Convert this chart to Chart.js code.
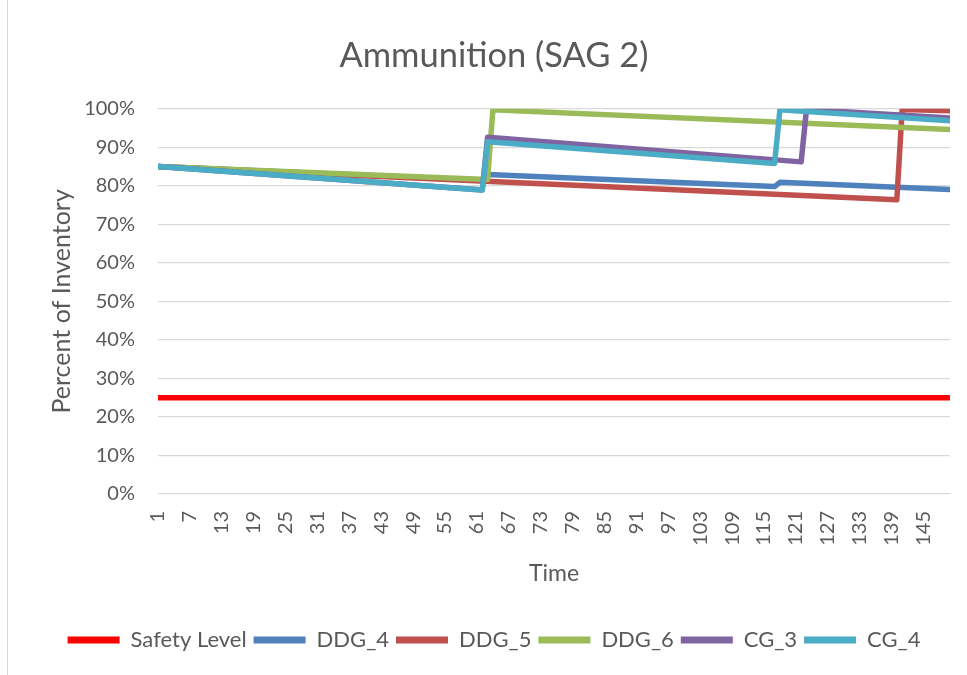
<!DOCTYPE html>
<html>
<head>
<meta charset="utf-8">
<script src="https://cdn.jsdelivr.net/npm/chart.js@4.4.1/dist/chart.umd.min.js"></script>
<style>
  html, body { margin: 0; padding: 0; background: #fff; }
  #frame { position: absolute; left: 7px; top: 0; bottom: 0; border-left: 1px solid #d9d9d9; }
  #wrap { position: relative; width: 967px; height: 675px; }
</style>
</head>
<body>
<div id="wrap">
  <div id="frame"></div>
  <canvas id="chart" width="967" height="675"></canvas>
</div>
<script>
// Ammunition (SAG 2) — percent of inventory over time, per ship.
// Each series is kept as its breakpoints (time / percent);
// the lines between them are straight, so Chart.js draws the segments.

const timeTicks = [1, 7, 13, 19, 25, 31, 37, 43, 49, 55, 61, 67, 73, 79, 85, 91, 97, 103, 109, 115, 121, 127, 133, 139, 145];
const pctTicks  = [0, 10, 20, 30, 40, 50, 60, 70, 80, 90, 100];

const seriesNames = ['Safety Level', 'DDG_4', 'DDG_5', 'DDG_6', 'CG_3', 'CG_4'];

const safetyTime = [1, 150];
const safetyPct  = [25, 25];

const ddg4Time = [1, 62, 63, 117, 118, 150];
const ddg4Pct  = [85, 81.4, 82.95, 79.8, 80.9, 79.0];

const ddg5Time = [1, 140, 141, 150];
const ddg5Pct  = [85, 76.4, 99.8, 99.5];

const ddg6Time = [1, 63, 64, 150];
const ddg6Pct  = [85, 81.6, 99.7, 94.6];

const cg3Time = [1, 62, 63, 122, 123, 150];
const cg3Pct  = [85, 78.9, 92.6, 86.2, 99.8, 97.6];

const cg4Time = [1, 62, 63, 117, 118, 150];
const cg4Pct  = [85, 78.9, 91.4, 85.8, 99.7, 96.9];

const colors = ['#FF0000', '#4F81BD', '#C0504D', '#9BBB59', '#8064A2', '#4BACC6'];
const TEXT = '#595959';
const FONT = 'Lato, "Open Sans", sans-serif';

const pairs = (xs, ys) => xs.map((x, i) => ({ x, y: ys[i] }));
const allTimes = [safetyTime, ddg4Time, ddg5Time, ddg6Time, cg3Time, cg4Time];
const allPcts  = [safetyPct, ddg4Pct, ddg5Pct, ddg6Pct, cg3Pct, cg4Pct];

// Excel paints later series on top; Chart.js paints lower `order` on top.
const datasets = seriesNames.map((name, i) => ({
  label: name,
  data: pairs(allTimes[i], allPcts[i]),
  borderColor: colors[i],
  backgroundColor: colors[i],
  borderWidth: 5.5,
  borderCapStyle: 'round',
  borderJoinStyle: 'round',
  pointRadius: 0,
  tension: 0,
  clip: 0,
  order: seriesNames.length - i,
}));

new Chart(document.getElementById('chart'), {
  type: 'line',
  data: { datasets },
  options: {
    responsive: false,
    animation: false,
    // left/right padding also centres title and legend the way Excel does
    layout: { padding: { left: 38, right: 17, top: 0, bottom: 14 } },
    plugins: {
      title: {
        display: true,
        text: 'Ammunition (SAG 2)',
        color: TEXT,
        font: { family: FONT, size: 34.5, weight: 'normal' },
        padding: { top: 35, bottom: 32.3 },
      },
      legend: {
        position: 'bottom',
        labels: {
          color: TEXT,
          font: { family: FONT, size: 22 },
          boxWidth: 52,
          boxHeight: 7,
          padding: 7,
          sort: (a, b) => a.datasetIndex - b.datasetIndex,
          generateLabels: chart => chart.data.datasets.map((ds, i) => ({
            text: ds.label,
            fillStyle: ds.borderColor,
            strokeStyle: ds.borderColor,
            lineWidth: 0,
            fontColor: TEXT,
            datasetIndex: i,
          })),
        },
      },
      tooltip: { enabled: false },
    },
    scales: {
      x: {
        type: 'linear',
        min: 1,
        max: 150,
        afterBuildTicks: s => { s.ticks = timeTicks.map(v => ({ value: v })); },
        afterFit: s => { s.height = 128; },
        ticks: {
          autoSkip: false,
          minRotation: 90,
          maxRotation: 90,
          padding: 9,
          color: TEXT,
          font: { family: FONT, size: 20 },
        },
        grid: { display: false },
        border: { display: false },
        title: {
          display: true,
          text: 'Time',
          color: TEXT,
          font: { family: FONT, size: 23 },
          padding: { top: 0, bottom: 35 },
        },
      },
      y: {
        min: 0,
        max: 100,
        afterBuildTicks: s => { s.ticks = pctTicks.map(v => ({ value: v })); },
        afterFit: s => { s.width = 120; },
        ticks: {
          padding: 23,
          color: TEXT,
          font: { family: FONT, size: 20 },
          callback: v => v + '%',
        },
        grid: { color: '#D9D9D9', lineWidth: 1.3, drawTicks: false },
        border: { display: false },
        title: {
          display: true,
          text: 'Percent of Inventory',
          color: TEXT,
          font: { family: FONT, size: 25 },
          padding: { top: 9, bottom: 0 },
        },
      },
    },
  },
});
</script>
</body>
</html>
